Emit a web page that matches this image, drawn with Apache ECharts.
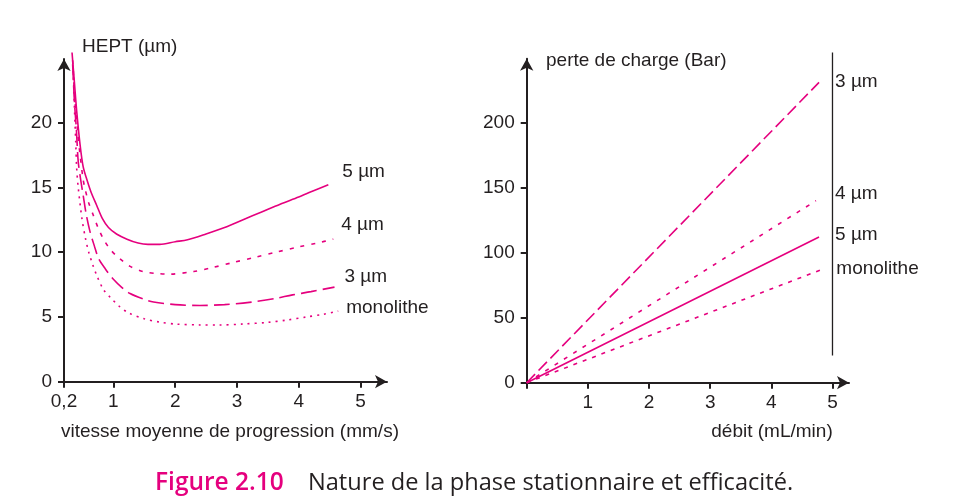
<!DOCTYPE html>
<html><head><meta charset="utf-8">
<script src="https://cdn.jsdelivr.net/npm/echarts@6/dist/echarts.min.js"></script>
<style>html,body{margin:0;padding:0;background:#fff}#c{width:979px;height:502px}</style>
</head><body><div id="c"></div>
<script>
// ---- Left chart: HEPT (µm) vs vitesse moyenne (mm/s)
const hept5 = [[0.33,25.4],[0.37,23.0],[0.405,20.9],[0.46,18.3],[0.51,16.6],[0.57,15.6],[0.64,14.6],[0.73,13.6],[0.82,12.6],[0.92,11.9],[1.05,11.4],[1.22,11.0],[1.4,10.7],[1.56,10.6],[1.75,10.6],[2.0,10.8],[2.2,10.95],[2.5,11.4],[2.8,11.9],[3.1,12.5],[3.4,13.1],[3.7,13.7],[4.0,14.25],[4.2,14.65],[4.48,15.2]];
const hept4 = [[0.34,24.8],[0.38,21.5],[0.42,19.3],[0.46,17.5],[0.51,15.6],[0.54,14.9],[0.6,13.8],[0.67,12.9],[0.75,11.9],[0.84,11.0],[0.95,10.2],[1.1,9.5],[1.27,8.9],[1.48,8.5],[1.7,8.35],[1.9,8.3],[2.3,8.5],[2.6,8.8],[2.94,9.2],[3.3,9.6],[3.64,10.0],[4.0,10.4],[4.3,10.7],[4.56,11.0]];
const hept3 = [[0.34,24.5],[0.37,21.5],[0.40,19.5],[0.43,17.0],[0.47,15.6],[0.51,14.4],[0.56,12.9],[0.62,11.6],[0.69,10.5],[0.76,9.5],[0.87,8.7],[1.0,7.9],[1.13,7.3],[1.27,6.8],[1.5,6.35],[1.65,6.15],[2.0,5.95],[2.4,5.88],[2.8,5.95],[3.2,6.12],[3.6,6.4],[3.9,6.7],[4.2,6.95],[4.58,7.3]];
const heptMono = [[0.35,24.0],[0.37,21.0],[0.39,18.5],[0.405,16.5],[0.43,15.0],[0.49,12.6],[0.55,11.0],[0.6,10.0],[0.66,9.1],[0.73,8.2],[0.84,7.1],[0.95,6.5],[1.1,5.8],[1.25,5.3],[1.5,4.85],[1.75,4.6],[2.0,4.45],[2.4,4.38],[2.7,4.37],[3.1,4.45],[3.5,4.58],[3.8,4.75],[4.13,5.0],[4.4,5.2],[4.64,5.45]];
const leftYTicks = [0,5,10,15,20];
const leftXTicks = [0.2,1,2,3,4,5];

// ---- Right chart: perte de charge (Bar) vs débit (mL/min)
const perte3 = [[0,0],[4.78,231]];
const perte4 = [[0,0],[4.73,140]];
const perte5 = [[0,0],[4.78,112]];
const perteMono = [[0,0],[4.85,87.5]];
const rightYTicks = [0,50,100,150,200];
const rightXLabels = [1,2,3,4,5];
const rightXTicks = [0,1,2,3,4,5];
const limitLine = [[5,21],[5,254]];

const names = {s5:'5 µm', s4:'4 µm', s3:'3 µm', mono:'monolithe'};

const PINK = '#e5007e';
const INK = '#231f20';
const FONT = '"Liberation Sans", Arial, sans-serif';

function axisBase(min, max, tickVals, labelVals, fmt, margin){
  return {
    type:'value', min:min, max:max,
    splitLine:{show:false},
    axisLine:{show:true, onZero:false, symbol:['none','arrow'], symbolSize:[10,12], lineStyle:{color:INK, width:2}},
    axisTick:{show:true, length:6, customValues:tickVals, lineStyle:{color:INK, width:2}},
    axisLabel:{show:true, customValues:labelVals, formatter:fmt, fontSize:19, fontFamily:FONT, color:INK, margin:margin}
  };
}

function lineSeries(name, data, xi, dash, lbl){
  return {
    type:'line', name:name, data:data, xAxisIndex:xi, yAxisIndex:xi,
    symbol:'none', showSymbol:false, smooth:data.length>2?0.3:false, clip:false,
    lineStyle:{color:PINK, width:1.6, type:dash},
    endLabel:{show:true, formatter:'{a}', distance:0, offset:lbl, fontSize:19, fontFamily:FONT, color:INK},
    emphasis:{disabled:true}, silent:true
  };
}

const chart = echarts.init(document.getElementById('c'), null, {renderer:'canvas'});
chart.setOption({
  animation:false,
  backgroundColor:'#fff',
  grid:[
    {left:64, top:59, width:323, height:322.7},
    {left:526.7, top:58.7, width:322.3, height:324}
  ],
  xAxis:[
    Object.assign(axisBase(0.2, 5.43, leftXTicks, leftXTicks, v => v===0.2 ? '0,2' : String(v), 11), {gridIndex:0}),
    Object.assign(axisBase(0, 5.27, rightXTicks, rightXLabels, v => String(v), 11), {gridIndex:1})
  ],
  yAxis:[
    Object.assign(axisBase(0, 24.9, leftYTicks, leftYTicks, v => String(v), 12), {gridIndex:0}),
    Object.assign(axisBase(0, 249.2, rightYTicks, rightYTicks, v => String(v), 12), {gridIndex:1})
  ],
  series:[
    lineSeries(names.s5, hept5, 0, 'solid', [14,-13]),
    lineSeries(names.s4, hept4, 0, [4,7], [8,-14]),
    lineSeries(names.s3, hept3, 0, [16,6], [10,-10]),
    lineSeries(names.mono, heptMono, 0, [2,5], [8,-3]),
    lineSeries(names.s3, perte3, 1, [12,5], [16,-1]),
    lineSeries(names.s4, perte4, 1, [4,7], [19,-7]),
    lineSeries(names.s5, perte5, 1, 'solid', [16,-2]),
    lineSeries(names.mono, perteMono, 1, [4,6], [13,0]),
    {type:'line', data:limitLine, xAxisIndex:1, yAxisIndex:1, symbol:'none', clip:false, silent:true,
     lineStyle:{color:INK, width:1.3}}
  ],
  graphic:[
    {type:'text', x:82, y:47, style:{text:'HEPT (µm)', fill:INK, font:'19px '+FONT, align:'left', verticalAlign:'middle'}},
    {type:'text', x:230, y:432, style:{text:'vitesse moyenne de progression (mm/s)', fill:INK, font:'19px '+FONT, align:'center', verticalAlign:'middle'}},
    {type:'text', x:546, y:61, style:{text:'perte de charge (Bar)', fill:INK, font:'19px '+FONT, align:'left', verticalAlign:'middle'}},
    {type:'text', x:772, y:432, style:{text:'débit (mL/min)', fill:INK, font:'19px '+FONT, align:'center', verticalAlign:'middle'}},
    {type:'text', x:155, y:483, style:{text:'Figure 2.10', fill:PINK, font:'600 24.5px "Open Sans", sans-serif', align:'left', verticalAlign:'middle'}},
    {type:'text', x:308, y:483, style:{text:'Nature de la phase stationnaire et efficacité.', fill:INK, font:'23.6px "Open Sans", sans-serif', align:'left', verticalAlign:'middle'}}
  ]
});
</script>
</body></html>
